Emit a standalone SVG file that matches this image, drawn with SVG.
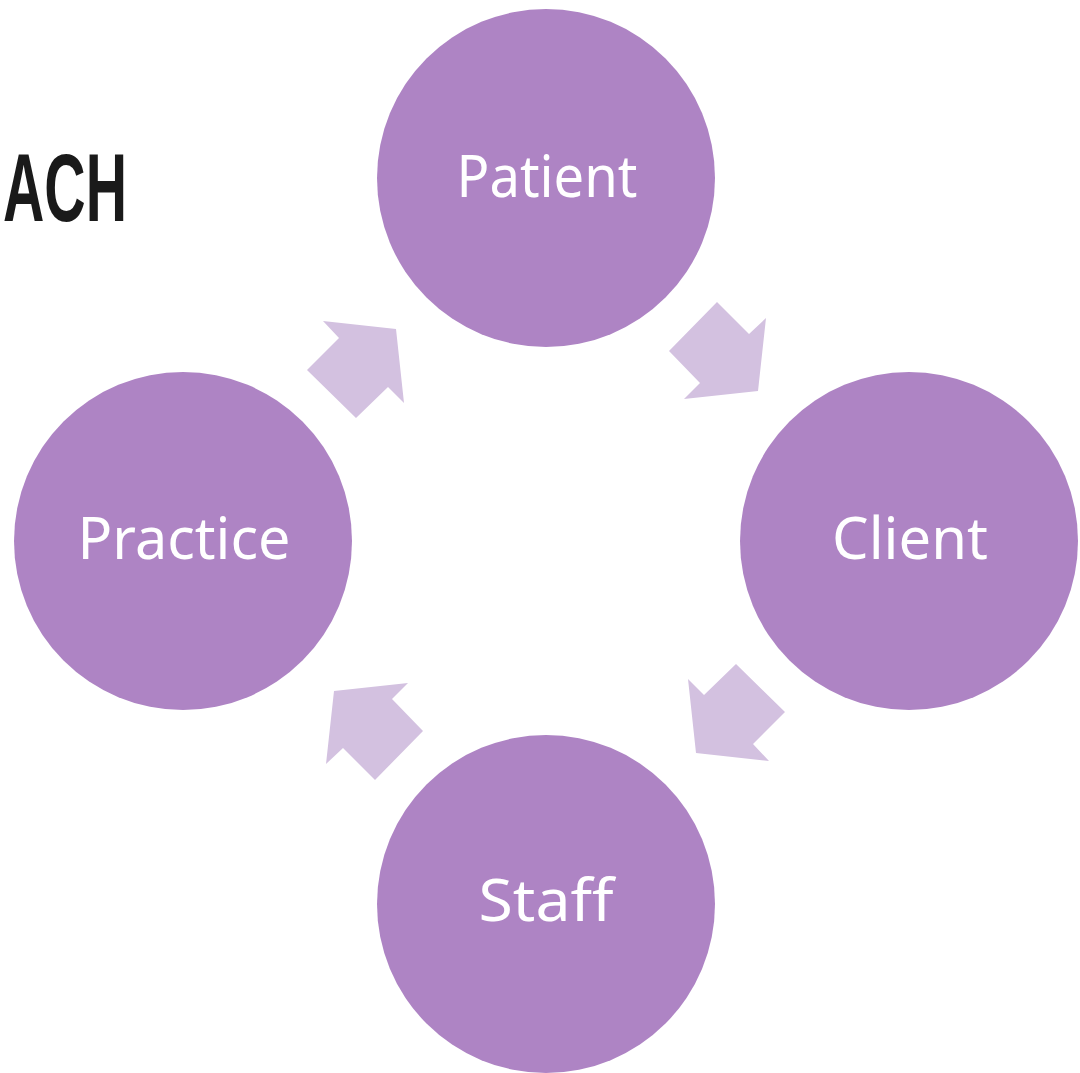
<svg xmlns="http://www.w3.org/2000/svg" width="1080" height="1073" viewBox="0 0 1080 1073">
  <style>
    .node { fill: #AE84C4; }
    .label { fill: #FFFFFF; font-family: "Noto Sans", "DejaVu Sans", sans-serif; font-size: 58px; text-anchor: middle; }
    .flow { fill: #D3C1E0; }
    .title { fill: #1A1A1A; font-family: "Liberation Sans", "DejaVu Sans", sans-serif; font-size: 97px; font-weight: bold; }
  </style>
  <defs>
    <!-- block arrow in the upper-left quadrant; the others are rotated copies about the ring centre -->
    <polygon id="flow-arrow" points="323,321 396,329 404,403 388,387 356,418 307,370 339,338"/>
  </defs>
  <rect width="1080" height="1073" fill="#FFFFFF"/>

  <text class="title" x="3" y="221" textLength="124" lengthAdjust="spacingAndGlyphs">ACH</text>

  <g id="connectors" class="flow">
    <use href="#flow-arrow"/>
    <use href="#flow-arrow" transform="rotate(90 546 541)"/>
    <use href="#flow-arrow" transform="rotate(180 546 541)"/>
    <use href="#flow-arrow" transform="rotate(270 546 541)"/>
  </g>

  <g id="node-patient">
    <circle class="node" cx="546" cy="178" r="169"/>
    <text class="label" x="547" y="197" textLength="181" lengthAdjust="spacingAndGlyphs">Patient</text>
  </g>
  <g id="node-client">
    <circle class="node" cx="909" cy="541" r="169"/>
    <text class="label" x="910" y="559" textLength="156" lengthAdjust="spacingAndGlyphs">Client</text>
  </g>
  <g id="node-staff">
    <circle class="node" cx="546" cy="904" r="169"/>
    <text class="label" x="546" y="921" textLength="135" lengthAdjust="spacingAndGlyphs">Staff</text>
  </g>
  <g id="node-practice">
    <circle class="node" cx="183" cy="541" r="169"/>
    <text class="label" x="184" y="559" textLength="213" lengthAdjust="spacingAndGlyphs">Practice</text>
  </g>
</svg>
